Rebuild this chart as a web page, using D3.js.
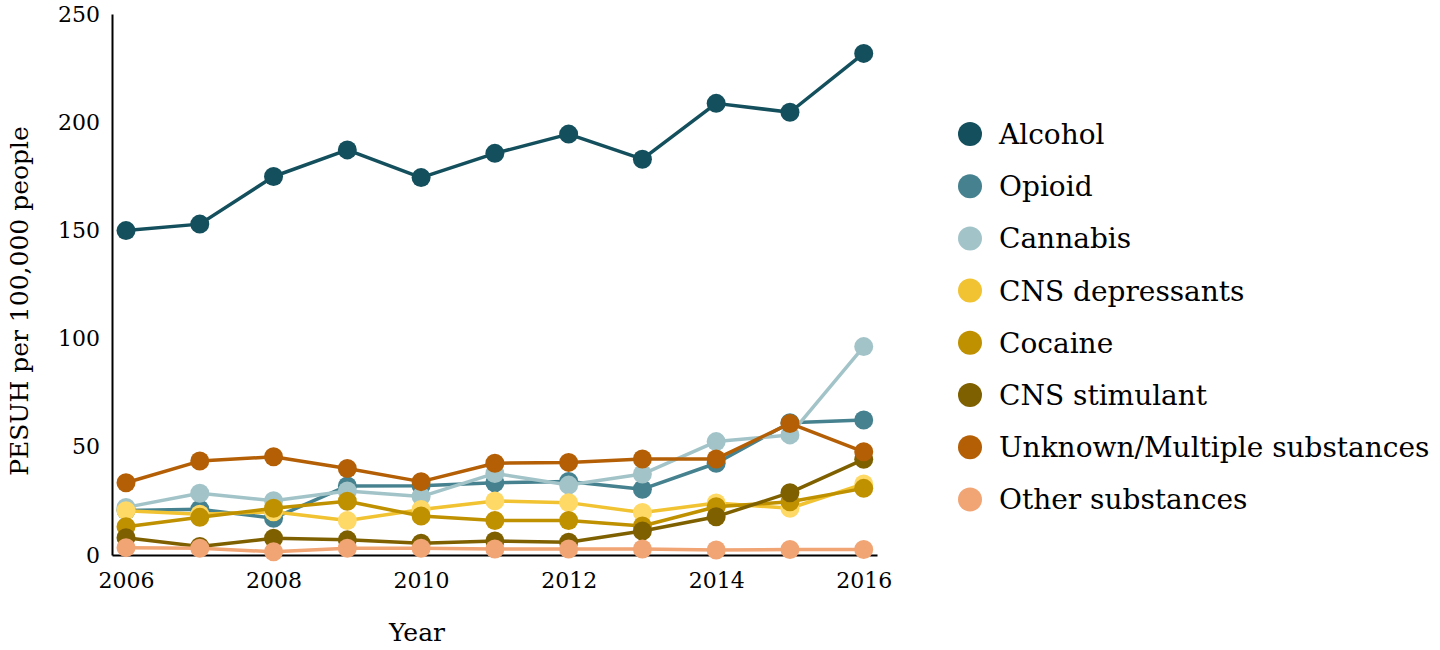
<!DOCTYPE html>
<html lang="en">
<head>
<meta charset="UTF-8"/>
<title>PESUH per 100,000 people by substance</title>
<script src="https://d3js.org/d3.v7.min.js"></script>
<style>
    body { margin: 0; background: #fff; }
    text { font-family: "DejaVu Serif", serif; fill: #000; }
</style>
</head>
<body>
<div id="chart"></div>
<script>
    // Data
    var years = [2006, 2007, 2008, 2009, 2010, 2011, 2012, 2013, 2014, 2015, 2016];
    var substances = ["Alcohol", "Opioid", "Cannabis", "CNS depressants", "Cocaine",
                      "CNS stimulant", "Unknown/Multiple substances", "Other substances"];

    var alcohol   = [149.9, 152.9, 174.9, 187.2, 174.4, 185.6, 194.5, 182.9, 208.7, 204.6, 231.8];
    var opioid    = [20.6, 21.1, 17.0, 31.9, 32.0, 33.4, 34.0, 30.4, 42.4, 61.1, 62.4];
    var cannabis  = [22.0, 28.5, 25.1, 29.6, 27.0, 37.7, 32.3, 37.4, 52.4, 55.5, 96.3];
    var cnsDep    = [20.5, 18.8, 20.0, 15.9, 21.0, 25.0, 24.2, 19.6, 24.0, 21.6, 32.8];
    var cocaine   = [13.1, 17.4, 21.6, 24.8, 18.0, 15.9, 15.9, 13.4, 22.3, 24.6, 30.8];
    var cnsStim   = [8.0, 3.9, 7.7, 7.0, 5.4, 6.5, 5.9, 11.1, 17.7, 28.8, 44.2];
    var unknown   = [33.4, 43.4, 45.4, 40.0, 33.9, 42.4, 42.8, 44.4, 44.4, 60.8, 47.7];
    var other     = [3.4, 3.1, 1.5, 3.1, 3.1, 2.8, 2.8, 2.8, 2.3, 2.5, 2.5];

    var xTicks = [2006, 2008, 2010, 2012, 2014, 2016];
    var yTicks = [0, 50, 100, 150, 200, 250];

    var series = [alcohol, opioid, cannabis, cnsDep, cocaine, cnsStim, unknown, other];
    var colors = ["#134f5c", "#45818e", "#a2c4c9", "#f1c232", "#bf9000", "#7f6000", "#b45f06", "#f1a474"];
    var dotColors = ["#134f5c", "#45818e", "#a2c4c9", "#ffd966", "#bf9000", "#7f6000", "#b45f06", "#f1a474"];

    var width = 1440;
    var height = 650;

    var svg = d3.select("#chart")
        .append("svg")
        .attr("width", width)
        .attr("height", height);

    var xScale = d3.scaleLinear()
        .domain([2005.81, 2016.18])
        .range([112, 877]);

    var yScale = d3.scaleLinear()
        .domain([0, 250])
        .range([555, 14]);

    // X axis
    var xAxis = d3.axisBottom(xScale)
        .tickValues(xTicks)
        .tickFormat(d3.format("d"))
        .tickSize(0)
        .tickPadding(17);
    var gx = svg.append("g")
        .attr("transform", "translate(0," + yScale(0) + ")")
        .call(xAxis);

    // Y axis
    var yAxis = d3.axisLeft(yScale)
        .tickValues(yTicks)
        .tickSize(0)
        .tickPadding(12);
    var gy = svg.append("g")
        .attr("transform", "translate(" + xScale.range()[0] + ",0)")
        .call(yAxis);

    [gx, gy].forEach(function(g) {
        g.select(".domain").attr("stroke", "#000").attr("stroke-width", 2);
        g.selectAll("text").attr("font-family", "DejaVu Serif").attr("font-size", "22px").attr("fill", "#000");
    });

    // Axis titles
    svg.append("text")
        .attr("x", 417)
        .attr("y", 641)
        .attr("text-anchor", "middle")
        .attr("font-size", "25px")
        .text("Year");

    svg.append("text")
        .attr("text-anchor", "middle")
        .attr("transform", "translate(28,301)rotate(-90)")
        .attr("font-size", "25px")
        .text("PESUH per 100,000 people");

    // Lines and points, in legend order
    var line = d3.line()
        .x(function(d, i) { return xScale(years[i]); })
        .y(function(d) { return yScale(d); });

    series.forEach(function(values, s) {
        var g = svg.append("g");
        g.append("path")
            .datum(values)
            .attr("d", line)
            .attr("fill", "none")
            .attr("stroke", colors[s])
            .attr("stroke-width", 3.5)
            .attr("stroke-linejoin", "round");
        g.selectAll("circle")
            .data(values)
            .enter()
            .append("circle")
            .attr("cx", function(d, i) { return xScale(years[i]); })
            .attr("cy", function(d) { return yScale(d); })
            .attr("r", 9.5)
            .attr("fill", dotColors[s]);
    });

    // Legend
    var legend = svg.append("g")
        .attr("transform", "translate(970,134)");
    var items = legend.selectAll("g")
        .data(substances)
        .enter()
        .append("g")
        .attr("transform", function(d, i) { return "translate(0," + (i * 52.2) + ")"; });
    items.append("circle")
        .attr("r", 12)
        .attr("fill", function(d, i) { return colors[i]; });
    items.append("text")
        .attr("x", 29)
        .attr("y", 10)
        .attr("font-size", "28px")
        .attr("fill", "#1a1a1a")
        .text(function(d) { return d; });
</script>
</body>
</html>
